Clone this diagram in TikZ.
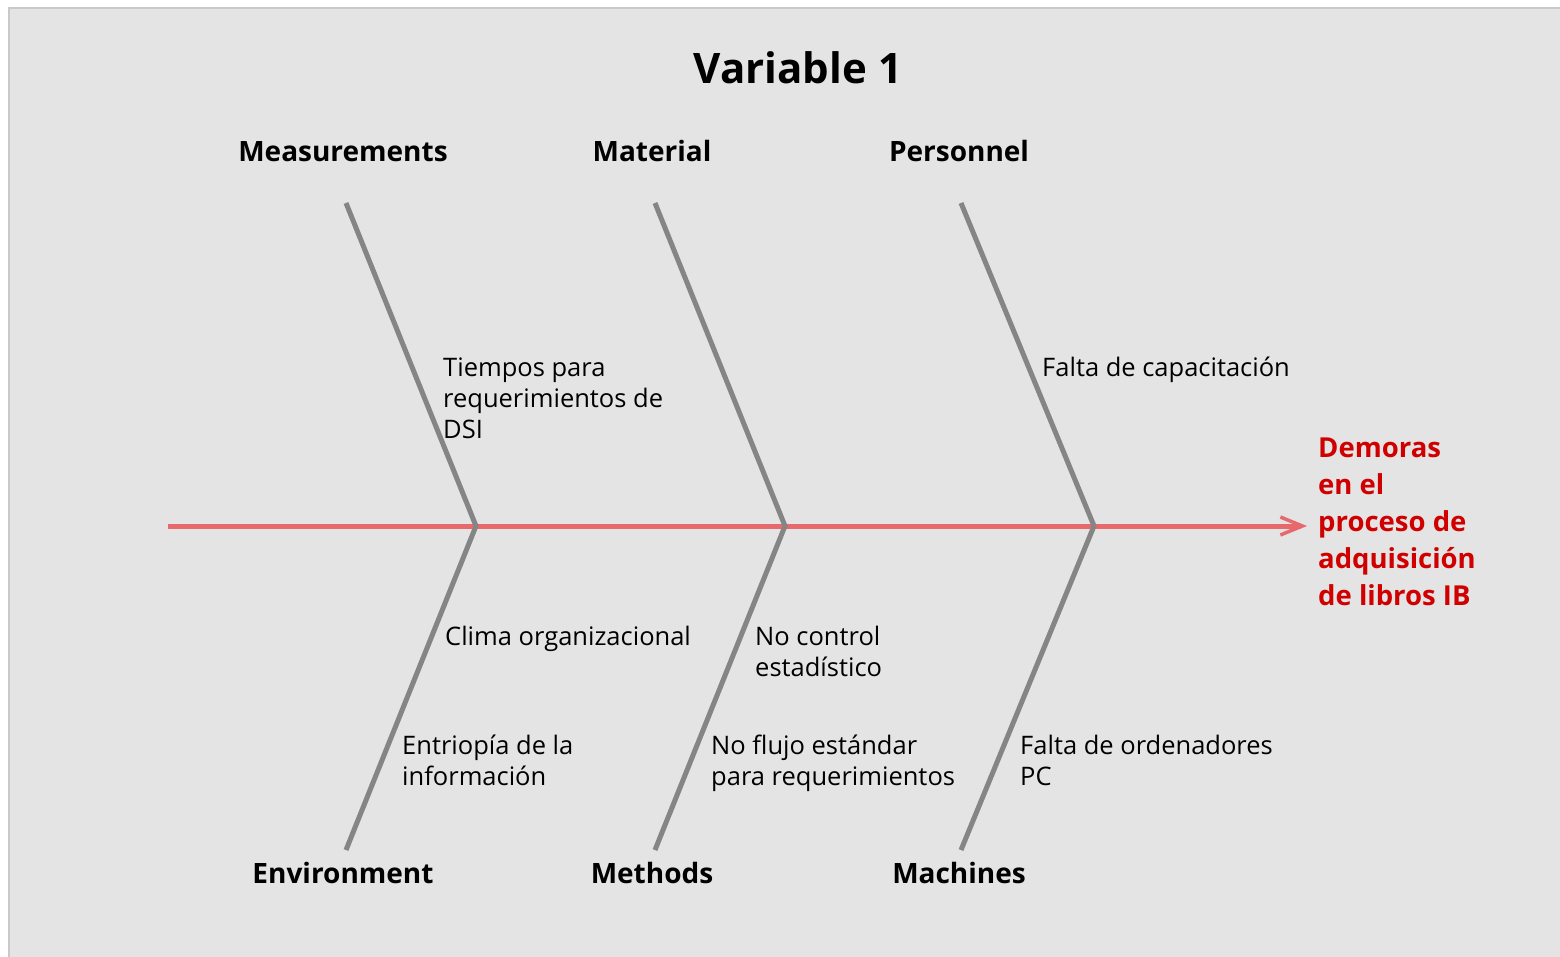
\documentclass[tikz,border=0pt]{standalone}
\usepackage{fontspec}
\setmainfont{Open Sans}
\usetikzlibrary{arrows.meta}
\definecolor{panel}{HTML}{E4E4E4}
\definecolor{panelrule}{HTML}{C9C9C9}
\definecolor{bone}{HTML}{858585}
\definecolor{spine}{HTML}{E8696B}
\definecolor{effect}{HTML}{D00000}
\begin{document}
\begin{tikzpicture}[x=1pt,y=-1pt,
  bonestyle/.style={draw=bone,line width=5pt},
  spinestyle/.style={draw=spine,line width=5pt,-{Straight Barb[length=22pt,width=18pt,line width=3.5pt]}},
  category/.style={font=\fontsize{28}{34}\selectfont\bfseries,anchor=base,inner sep=0pt},
  cause/.style={font=\fontsize{25.5}{31}\selectfont,anchor=base west,inner sep=0pt,align=left},
  effecttext/.style={font=\fontsize{27.5}{37}\selectfont\bfseries,text=effect,anchor=base west,inner sep=0pt,align=left},
  titletext/.style={font=\fontsize{42}{50}\selectfont\bfseries,anchor=base,inner sep=0pt}]
\useasboundingbox (0,0) rectangle (1560,957);
\clip (0,0) rectangle (1560,957);
\fill[white] (0,0) rectangle (1560,957);
\draw[panelrule,fill=panel,line width=2.5pt] (9,8) rectangle (1570,970);

% title
\node[titletext] (title) at (798,84) {Variable 1};

% spine and its joints
\coordinate (tail) at (168,526);
\coordinate (head) at (1307,526);
\coordinate (j1) at (476,526);
\coordinate (j2) at (785,526);
\coordinate (j3) at (1094,526);
\draw[spinestyle] (tail) -- (head);

% bone ends
\coordinate (u1) at (346,203);
\coordinate (u2) at (655,203);
\coordinate (u3) at (961,203);
\coordinate (d1) at (346,850);
\coordinate (d2) at (655,850);
\coordinate (d3) at (961,850);
\draw[bonestyle] (u1) -- (j1) -- (d1);
\draw[bonestyle] (u2) -- (j2) -- (d2);
\draw[bonestyle] (u3) -- (j3) -- (d3);

% category labels
\node[category] (meas) at (343,162) {Measurements};
\node[category] (mat)  at (652,162) {Material};
\node[category] (pers) at (959,162) {Personnel};
\node[category] (env)  at (343,883) {Environment};
\node[category] (meth) at (652,883) {Methods};
\node[category] (mach) at (959,883) {Machines};

% causes (the base anchor sits on the last line)
\node[cause] (c1) at (443,438) {Tiempos para\\requerimientos de\\DSI};
\node[cause] (c2) at (1042,376) {Falta de capacitación};
\node[cause] (c3) at (445,645) {Clima organizacional};
\node[cause] (c4) at (755,676) {No control\\estadístico};
\node[cause] (c5) at (402,785) {Entriopía de la\\información};
\node[cause] (c6) at (711,785) {No flujo estándar\\para requerimientos};
\node[cause] (c7) at (1020,785) {Falta de ordenadores\\PC};

% effect
\node[effecttext] (effect) at (1318,605) {Demoras\\en el\\proceso de\\adquisición\\de libros IB};
\end{tikzpicture}
\end{document}
